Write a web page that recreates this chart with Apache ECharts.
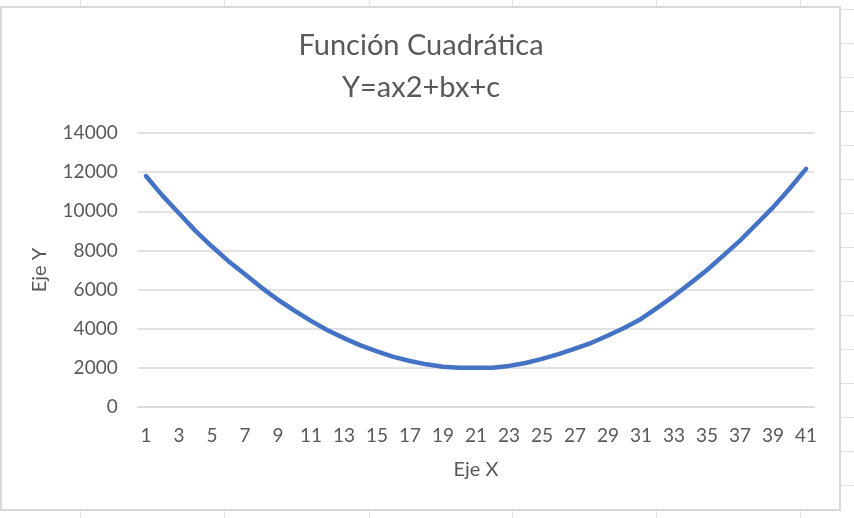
<!DOCTYPE html>
<html>
<head>
<meta charset="utf-8">
<script src="https://cdn.jsdelivr.net/npm/echarts@6/dist/echarts.min.js"></script>
<style>
html,body{margin:0;padding:0;background:#ffffff;}
#chart{width:854px;height:518px;}
</style>
</head>
<body>
<div id="chart"></div>
<script>
// Data
const categories = ['1','2','3','4','5','6','7','8','9','10','11','12','13','14','15','16','17','18','19','20','21','22','23','24','25','26','27','28','29','30','31','32','33','34','35','36','37','38','39','40','41'];
const yValues = [11800,10800,9900,9000,8200,7450,6780,6100,5480,4930,4400,3920,3520,3150,2840,2560,2350,2180,2060,2010,2000,2010,2100,2250,2460,2700,2980,3280,3650,4050,4500,5080,5680,6330,7000,7750,8500,9350,10200,11150,12170];
const titleLines = ['Función Cuadrática', 'Y=ax2+bx+c'];
const xAxisName = 'Eje X';
const yAxisName = 'Eje Y';
const yMin = 0, yMax = 14000, yStep = 2000;

// Spreadsheet background decoration positions
const sheetCols = [80, 224, 369, 512, 656, 800];
const sheetRows = [9, 43, 77, 111, 145, 179, 213, 247, 281, 315, 349, 383, 417, 451, 485, 519];

const FONT = 'Lato';
const TXT = '#595959';

const graphics = [];
sheetCols.forEach(x => graphics.push({type:'line', z:-20, silent:true, shape:{x1:x+0.5,y1:0,x2:x+0.5,y2:518}, style:{stroke:'#e1e1e1', lineWidth:1}}));
sheetRows.forEach(y => graphics.push({type:'line', z:-20, silent:true, shape:{x1:0,y1:y+0.5,x2:854,y2:y+0.5}, style:{stroke:'#e1e1e1', lineWidth:1}}));
graphics.push({type:'rect', z:-10, silent:true, shape:{x:1, y:7, width:839, height:503}, style:{fill:'#ffffff', stroke:'#d9d9d9', lineWidth:2}});

const chart = echarts.init(document.getElementById('chart'), null, {renderer:'canvas'});
chart.setOption({
  animation: false,
  backgroundColor: '#ffffff',
  graphic: graphics,
  title: {
    text: titleLines.join('\n'),
    left: 421,
    top: 25,
    padding: 0,
    textAlign: 'center',
    textStyle: {fontFamily: FONT, fontSize: 29, fontWeight: 'normal', color: TXT, lineHeight: 42}
  },
  grid: {left: 137.7, right: 39.7, top: 133, bottom: 111, containLabel: false},
  xAxis: {
    type: 'category',
    data: categories,
    boundaryGap: true,
    name: xAxisName,
    nameLocation: 'middle',
    nameGap: 53,
    nameTextStyle: {fontFamily: FONT, fontSize: 20, color: TXT},
    axisTick: {show: false},
    axisLine: {lineStyle: {color: '#d9d9d9', width: 1.5}},
    axisLabel: {interval: 1, margin: 19, fontFamily: FONT, fontSize: 19, color: TXT},
    splitLine: {show: false}
  },
  yAxis: {
    type: 'value',
    min: yMin, max: yMax, interval: yStep,
    name: yAxisName,
    nameLocation: 'middle',
    nameGap: 88,
    nameTextStyle: {fontFamily: FONT, fontSize: 20, color: TXT},
    axisLine: {show: false},
    axisTick: {show: false},
    axisLabel: {margin: 20, fontFamily: FONT, fontSize: 19, color: TXT, formatter: v => String(v)},
    splitLine: {lineStyle: {color: '#d9d9d9', width: 1.5}}
  },
  series: [{
    type: 'line',
    data: yValues,
    symbol: 'none',
    smooth: false,
    lineStyle: {color: '#4472C4', width: 4.5, cap: 'round', join: 'round'}
  }]
});
</script>
</body>
</html>
